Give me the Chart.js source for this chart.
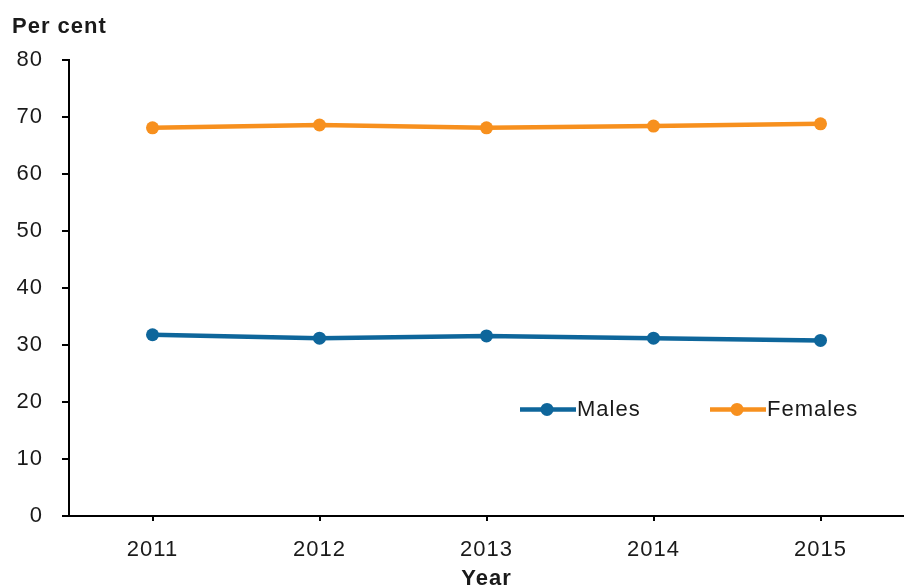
<!DOCTYPE html>
<html>
<head>
<meta charset="utf-8">
<script src="https://cdn.jsdelivr.net/npm/chart.js@4/dist/chart.umd.min.js"></script>
<style>
    html, body { margin: 0; padding: 0; background: #fff; }
    #wrap { width: 904px; height: 588px; position: relative; }
</style>
</head>
<body>
<div id="wrap"><canvas id="chart" width="904" height="588"></canvas></div>
<script>
// Data
const years = ['2011', '2012', '2013', '2014', '2015'];
const males = [31.8, 31.2, 31.6, 31.2, 30.8];
const females = [68.1, 68.6, 68.1, 68.4, 68.8];
const yTicks = [0, 10, 20, 30, 40, 50, 60, 70, 80];

const MALE_COL = '#0E669B';
const FEMALE_COL = '#F7901E';
const TEXT_COL = '#1a1a1a';
const FONT = 'Liberation Sans, Arial, sans-serif';

// slightly wider text, like the original rendering
const spacing = {
    id: 'spacing',
    beforeUpdate: (chart) => { chart.ctx.letterSpacing = '1px'; },
    beforeDraw: (chart) => { chart.ctx.letterSpacing = '1px'; }
};

// Legend sits inside the plot, plus the "Per cent" label top-left
const extras = {
    id: 'extras',
    afterDraw: (chart) => {
        const ctx = chart.ctx;
        const y = chart.scales.y.getPixelForValue(18.7);
        const items = [
            { label: 'Males', color: MALE_COL, x: 520 },
            { label: 'Females', color: FEMALE_COL, x: 710 }
        ];
        ctx.save();
        items.forEach(it => {
            ctx.strokeStyle = it.color;
            ctx.fillStyle = it.color;
            ctx.lineWidth = 4.5;
            ctx.beginPath();
            ctx.moveTo(it.x, y);
            ctx.lineTo(it.x + 56, y);
            ctx.stroke();
            ctx.beginPath();
            ctx.arc(it.x + 27, y, 6.5, 0, Math.PI * 2);
            ctx.fill();
            ctx.fillStyle = TEXT_COL;
            ctx.font = '22px ' + FONT;
            ctx.textBaseline = 'middle';
            ctx.textAlign = 'left';
            ctx.fillText(it.label, it.x + 57, y + 1);
        });
        ctx.font = 'bold 22px ' + FONT;
        ctx.textBaseline = 'alphabetic';
        ctx.fillText('Per cent', 12, 33);
        ctx.restore();
    }
};

new Chart(document.getElementById('chart'), {
    type: 'line',
    data: {
        labels: years,
        datasets: [
            {
                label: 'Males',
                data: males,
                borderColor: MALE_COL,
                backgroundColor: MALE_COL,
                borderWidth: 4.5,
                pointRadius: 6.5,
                pointBorderWidth: 0,
                tension: 0
            },
            {
                label: 'Females',
                data: females,
                borderColor: FEMALE_COL,
                backgroundColor: FEMALE_COL,
                borderWidth: 4.5,
                pointRadius: 6.5,
                pointBorderWidth: 0,
                tension: 0
            }
        ]
    },
    options: {
        responsive: false,
        animation: false,
        layout: { autoPadding: false, padding: { top: 60, left: 0, right: 0, bottom: 0 } },
        plugins: {
            legend: { display: false },
            tooltip: { enabled: false }
        },
        scales: {
            x: {
                offset: true,
                grid: { offset: false, drawOnChartArea: false, drawTicks: true, tickLength: 5, color: '#000', lineWidth: 2 },
                border: { display: true, color: '#000', width: 2 },
                ticks: { color: TEXT_COL, font: { family: FONT, size: 22 }, padding: 16 },
                title: { display: true, text: 'Year', color: TEXT_COL, font: { family: FONT, size: 22, weight: 'bold' }, padding: { top: -4, bottom: -4 } },
                afterFit: (s) => { s.height = 72; s.paddingLeft = 0; s.paddingRight = 0; }
            },
            y: {
                min: 0,
                max: 80,
                afterBuildTicks: (s) => { s.ticks = yTicks.map(v => ({ value: v })); },
                grid: { drawOnChartArea: false, drawTicks: true, tickLength: 7, color: '#000', lineWidth: 2 },
                border: { display: true, color: '#000', width: 2 },
                ticks: { color: TEXT_COL, font: { family: FONT, size: 22 }, padding: 19 },
                afterFit: (s) => { s.width = 69; }
            }
        }
    },
    plugins: [spacing, extras]
});
</script>
</body>
</html>
